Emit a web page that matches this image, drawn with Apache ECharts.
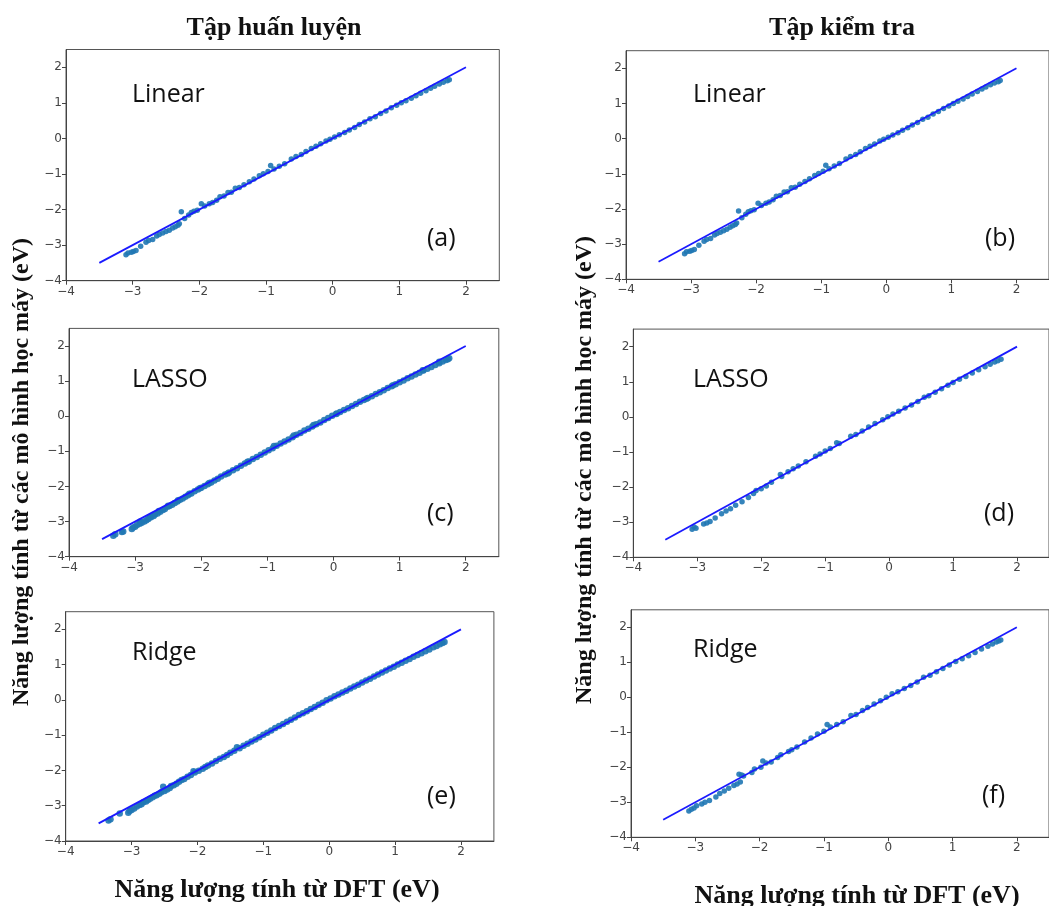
<!DOCTYPE html>
<html><head><meta charset="utf-8">
<script src="https://cdn.jsdelivr.net/npm/echarts@6/dist/echarts.min.js"></script>
<style>html,body{margin:0;padding:0;background:#fff}#c{width:1049px;height:906px}</style>
</head><body><div id="c"></div>
<script>
// ---- data ----
const columnTitles = ['Tập huấn luyện', 'Tập kiểm tra'];
const yAxisTitle = 'Năng lượng tính từ các mô hình học máy (eV)';
const xAxisTitle = 'Năng lượng tính từ DFT (eV)';
const modelNames = ['Linear', 'Linear', 'LASSO', 'LASSO', 'Ridge', 'Ridge'];
const panelTags = ['(a)', '(b)', '(c)', '(d)', '(e)', '(f)'];
const tickValues = [-4, -3, -2, -1, 0, 1, 2];
const refLineX = [-3.5, 2];
const refLineY = [-3.5, 2];

const linearTrain = [[-3.10,-3.27],[-3.07,-3.22],[-3.02,-3.20],[-2.99,-3.18],[-2.95,-3.15],[-2.88,-3.03],[-2.80,-2.92],[-2.76,-2.87],[-2.70,-2.84],[-2.64,-2.74],[-2.60,-2.70],[-2.55,-2.66],[-2.50,-2.62],[-2.45,-2.58],[-2.40,-2.52],[-2.36,-2.48],[-2.32,-2.44],[-2.30,-2.40],[-2.27,-2.06],[-2.22,-2.25],[-2.16,-2.15],[-2.12,-2.08],[-2.08,-2.05],[-2.03,-2.02],[-1.97,-1.84],[-1.92,-1.90],[-1.85,-1.84],[-1.80,-1.80],[-1.74,-1.74],[-1.69,-1.64],[-1.63,-1.62],[-1.57,-1.52],[-1.52,-1.51],[-1.46,-1.40],[-1.40,-1.38],[-1.33,-1.30],[-1.25,-1.22],[-1.18,-1.14],[-1.10,-1.05],[-1.04,-0.99],[-0.97,-0.93],[-0.93,-0.76],[-0.88,-0.86],[-0.80,-0.78],[-0.72,-0.71],[-0.62,-0.58],[-0.55,-0.51],[-0.47,-0.45],[-0.40,-0.37],[-0.32,-0.28],[-0.25,-0.22],[-0.18,-0.15],[-0.10,-0.07],[-0.04,-0.02],[0.03,0.04],[0.10,0.10],[0.18,0.17],[0.25,0.24],[0.33,0.31],[0.40,0.39],[0.48,0.46],[0.56,0.55],[0.64,0.61],[0.72,0.70],[0.80,0.77],[0.88,0.86],[0.96,0.93],[1.03,1.00],[1.10,1.06],[1.18,1.13],[1.25,1.20],[1.32,1.27],[1.40,1.34],[1.47,1.41],[1.53,1.47],[1.60,1.53],[1.66,1.58],[1.72,1.62],[1.75,1.65]];
const linearTest = [[-3.10,-3.27],[-3.07,-3.22],[-3.02,-3.20],[-2.99,-3.18],[-2.95,-3.15],[-2.88,-3.03],[-2.80,-2.92],[-2.76,-2.87],[-2.70,-2.84],[-2.64,-2.74],[-2.60,-2.70],[-2.55,-2.66],[-2.50,-2.62],[-2.45,-2.58],[-2.40,-2.52],[-2.36,-2.48],[-2.32,-2.44],[-2.30,-2.40],[-2.27,-2.06],[-2.22,-2.25],[-2.16,-2.15],[-2.12,-2.08],[-2.08,-2.05],[-2.03,-2.02],[-1.97,-1.84],[-1.92,-1.90],[-1.85,-1.84],[-1.80,-1.80],[-1.74,-1.74],[-1.69,-1.64],[-1.63,-1.62],[-1.57,-1.52],[-1.52,-1.51],[-1.46,-1.40],[-1.40,-1.38],[-1.33,-1.30],[-1.25,-1.22],[-1.18,-1.14],[-1.10,-1.05],[-1.04,-0.99],[-0.97,-0.93],[-0.93,-0.76],[-0.88,-0.86],[-0.80,-0.78],[-0.72,-0.71],[-0.62,-0.58],[-0.55,-0.51],[-0.47,-0.45],[-0.40,-0.37],[-0.32,-0.28],[-0.25,-0.22],[-0.18,-0.15],[-0.10,-0.07],[-0.04,-0.02],[0.03,0.04],[0.10,0.10],[0.18,0.17],[0.25,0.24],[0.33,0.31],[0.40,0.39],[0.48,0.46],[0.56,0.55],[0.64,0.61],[0.72,0.70],[0.80,0.77],[0.88,0.86],[0.96,0.93],[1.03,1.00],[1.10,1.06],[1.18,1.13],[1.25,1.20],[1.32,1.27],[1.40,1.34],[1.47,1.41],[1.53,1.47],[1.60,1.53],[1.66,1.58],[1.72,1.62],[1.75,1.65]];
const lassoTrain = [[-3.33,-3.40],[-3.30,-3.36],[-3.20,-3.30],[-3.18,-3.28],[-3.05,-3.21],[-3.03,-3.17],[-3.00,-3.15],[-2.97,-3.10],[-2.93,-3.06],[-2.92,-3.00],[-2.90,-3.03],[-2.86,-3.00],[-2.83,-2.96],[-2.80,-2.93],[-2.78,-2.88],[-2.76,-2.88],[-2.72,-2.84],[-2.70,-2.80],[-2.66,-2.77],[-2.64,-2.70],[-2.62,-2.72],[-2.58,-2.67],[-2.55,-2.64],[-2.51,-2.58],[-2.50,-2.55],[-2.48,-2.56],[-2.44,-2.52],[-2.40,-2.47],[-2.36,-2.43],[-2.35,-2.39],[-2.32,-2.38],[-2.28,-2.34],[-2.24,-2.29],[-2.20,-2.25],[-2.18,-2.21],[-2.15,-2.20],[-2.10,-2.14],[-2.05,-2.09],[-2.02,-2.05],[-2.00,-2.04],[-1.95,-1.99],[-1.90,-1.94],[-1.88,-1.90],[-1.85,-1.89],[-1.80,-1.83],[-1.75,-1.78],[-1.70,-1.72],[-1.64,-1.66],[-1.60,-1.63],[-1.58,-1.60],[-1.52,-1.54],[-1.46,-1.48],[-1.40,-1.41],[-1.34,-1.35],[-1.30,-1.30],[-1.28,-1.29],[-1.22,-1.22],[-1.16,-1.16],[-1.10,-1.10],[-1.04,-1.03],[-0.98,-0.97],[-0.92,-0.91],[-0.90,-0.85],[-0.86,-0.84],[-0.80,-0.78],[-0.74,-0.72],[-0.68,-0.66],[-0.62,-0.60],[-0.60,-0.55],[-0.56,-0.53],[-0.50,-0.48],[-0.44,-0.41],[-0.38,-0.36],[-0.32,-0.29],[-0.30,-0.25],[-0.26,-0.23],[-0.20,-0.18],[-0.14,-0.11],[-0.08,-0.05],[-0.02,0.01],[0.04,0.06],[0.05,0.08],[0.10,0.12],[0.16,0.18],[0.22,0.23],[0.28,0.29],[0.34,0.35],[0.40,0.41],[0.46,0.46],[0.50,0.50],[0.52,0.52],[0.58,0.57],[0.64,0.63],[0.70,0.68],[0.76,0.74],[0.82,0.80],[0.88,0.85],[0.90,0.88],[0.94,0.91],[1.00,0.97],[1.06,1.02],[1.12,1.08],[1.18,1.13],[1.24,1.19],[1.30,1.24],[1.35,1.31],[1.36,1.30],[1.42,1.35],[1.48,1.40],[1.54,1.46],[1.60,1.51],[1.60,1.55],[1.65,1.56],[1.70,1.60],[1.73,1.62],[1.75,1.65]];
const lassoTest = [[-3.08,-3.20],[-3.05,-3.14],[-3.02,-3.17],[-2.90,-3.05],[-2.85,-3.02],[-2.80,-2.98],[-2.72,-2.88],[-2.62,-2.76],[-2.55,-2.68],[-2.48,-2.62],[-2.40,-2.52],[-2.30,-2.42],[-2.20,-2.30],[-2.12,-2.18],[-2.08,-2.10],[-2.00,-2.05],[-1.92,-1.97],[-1.84,-1.86],[-1.70,-1.64],[-1.68,-1.70],[-1.58,-1.56],[-1.50,-1.48],[-1.42,-1.40],[-1.30,-1.28],[-1.15,-1.12],[-1.08,-1.06],[-1.00,-0.97],[-0.92,-0.90],[-0.82,-0.74],[-0.78,-0.76],[-0.60,-0.55],[-0.52,-0.50],[-0.42,-0.40],[-0.32,-0.29],[-0.22,-0.19],[-0.10,-0.08],[-0.02,0.00],[0.06,0.08],[0.15,0.16],[0.25,0.25],[0.35,0.34],[0.45,0.44],[0.55,0.56],[0.62,0.60],[0.72,0.70],[0.82,0.80],[0.92,0.90],[1.00,0.98],[1.10,1.07],[1.20,1.15],[1.30,1.25],[1.40,1.34],[1.50,1.43],[1.58,1.50],[1.65,1.56],[1.70,1.60],[1.75,1.64]];
const ridgeTrain = [[-3.35,-3.42],[-3.32,-3.38],[-3.18,-3.22],[-3.05,-3.20],[-3.03,-3.15],[-3.00,-3.12],[-2.96,-3.08],[-2.92,-3.02],[-2.88,-2.98],[-2.85,-2.96],[-2.82,-2.90],[-2.78,-2.88],[-2.75,-2.84],[-2.72,-2.80],[-2.68,-2.76],[-2.65,-2.72],[-2.62,-2.70],[-2.58,-2.66],[-2.55,-2.62],[-2.52,-2.46],[-2.50,-2.58],[-2.46,-2.54],[-2.42,-2.50],[-2.40,-2.44],[-2.36,-2.42],[-2.32,-2.38],[-2.28,-2.32],[-2.24,-2.27],[-2.20,-2.24],[-2.15,-2.18],[-2.10,-2.13],[-2.06,-2.02],[-2.04,-2.06],[-1.98,-2.01],[-1.92,-1.95],[-1.88,-1.90],[-1.84,-1.86],[-1.78,-1.80],[-1.72,-1.73],[-1.66,-1.67],[-1.60,-1.62],[-1.55,-1.56],[-1.50,-1.50],[-1.44,-1.44],[-1.40,-1.34],[-1.36,-1.37],[-1.30,-1.30],[-1.24,-1.24],[-1.18,-1.18],[-1.12,-1.12],[-1.06,-1.06],[-1.00,-0.99],[-0.94,-0.93],[-0.88,-0.87],[-0.82,-0.80],[-0.76,-0.74],[-0.70,-0.68],[-0.64,-0.62],[-0.58,-0.56],[-0.52,-0.50],[-0.46,-0.43],[-0.40,-0.38],[-0.34,-0.32],[-0.28,-0.26],[-0.22,-0.20],[-0.16,-0.14],[-0.10,-0.08],[-0.04,-0.01],[0.02,0.04],[0.08,0.10],[0.14,0.15],[0.20,0.21],[0.26,0.26],[0.32,0.32],[0.38,0.38],[0.44,0.43],[0.50,0.49],[0.56,0.55],[0.62,0.60],[0.68,0.66],[0.74,0.72],[0.80,0.78],[0.86,0.83],[0.92,0.89],[0.98,0.94],[1.04,1.00],[1.10,1.05],[1.16,1.11],[1.22,1.16],[1.28,1.22],[1.34,1.27],[1.40,1.32],[1.46,1.38],[1.52,1.43],[1.58,1.49],[1.63,1.53],[1.68,1.58],[1.72,1.61],[1.75,1.64]];
const ridgeTest = [[-3.10,-3.25],[-3.06,-3.20],[-3.02,-3.16],[-2.98,-3.10],[-2.90,-3.05],[-2.85,-3.00],[-2.78,-2.95],[-2.68,-2.85],[-2.62,-2.75],[-2.55,-2.68],[-2.48,-2.60],[-2.40,-2.52],[-2.35,-2.48],[-2.30,-2.42],[-2.32,-2.20],[-2.28,-2.22],[-2.25,-2.25],[-2.12,-2.15],[-2.08,-2.05],[-1.98,-2.00],[-1.95,-1.82],[-1.90,-1.88],[-1.82,-1.85],[-1.72,-1.72],[-1.67,-1.64],[-1.55,-1.55],[-1.50,-1.50],[-1.42,-1.42],[-1.30,-1.28],[-1.20,-1.16],[-1.10,-1.05],[-1.00,-0.97],[-0.95,-0.78],[-0.90,-0.85],[-0.80,-0.78],[-0.70,-0.70],[-0.58,-0.52],[-0.50,-0.49],[-0.40,-0.38],[-0.32,-0.29],[-0.22,-0.19],[-0.12,-0.10],[-0.03,0.00],[0.06,0.10],[0.15,0.16],[0.25,0.25],[0.35,0.34],[0.45,0.44],[0.55,0.57],[0.65,0.63],[0.75,0.73],[0.85,0.82],[0.95,0.92],[1.05,1.02],[1.15,1.10],[1.25,1.19],[1.35,1.28],[1.45,1.38],[1.55,1.46],[1.62,1.52],[1.68,1.58],[1.72,1.61],[1.75,1.64]];
const panelData = [linearTrain, linearTest, lassoTrain, lassoTest, ridgeTrain, ridgeTest];

// ---- layout (pixels) ----
const grids = [
  {left: 66,    top: 49.5,  width: 433.3, height: 231.2},
  {left: 626,   top: 50.7,  width: 425.8, height: 228.6},
  {left: 69,    top: 328.4, width: 429.8, height: 228.3},
  {left: 633.3, top: 329.1, width: 421.9, height: 228.2},
  {left: 65.7,  top: 611.7, width: 428.2, height: 229.3},
  {left: 631,   top: 609.8, width: 421.4, height: 227.5}
];
const nameLeft = [132, 693, 132, 693, 132, 693];
const nameY = [95, 95, 380, 380, 653, 650];
const tagLeft = [427, 985, 427, 984, 427, 982];
const tagY = [239, 239, 514, 514, 797, 796];
const dotSize = [5.5, 5.5, 6.5, 5.5, 6.5, 5.5];

const tickFmt = v => (tickValues.indexOf(v) >= 0 ? String(v).replace('-', '\u2212') : '');
const axisCommon = {
  min: -4, max: 2.5, interval: 1,
  splitLine: {show: false},
  axisLine: {show: true, onZero: false, lineStyle: {color: '#444', width: 1}},
  axisTick: {show: true, length: 4, lineStyle: {color: '#444'}},
  axisLabel: {color: '#444', fontSize: 12, fontFamily: 'DejaVu Sans', formatter: tickFmt, showMaxLabel: false},
};

const option = {
  animation: false,
  backgroundColor: '#fff',
  grid: grids.map(g => Object.assign({show: true, borderColor: '#555', borderWidth: 1, backgroundColor: 'transparent'}, g)),
  xAxis: grids.map((g, i) => Object.assign({type: 'value', gridIndex: i}, axisCommon, {axisLabel: Object.assign({}, axisCommon.axisLabel, {margin: 5})})),
  yAxis: grids.map((g, i) => Object.assign({type: 'value', gridIndex: i}, axisCommon, {axisLabel: Object.assign({}, axisCommon.axisLabel, {margin: 4})})),
  series: [],
  graphic: []
};

panelData.forEach((pts, i) => {
  option.series.push({
    type: 'line', xAxisIndex: i, yAxisIndex: i, symbol: 'none', z: 3,
    data: refLineX.map((x, k) => [x, refLineY[k]]),
    lineStyle: {color: '#1a1aff', width: 1.8}
  });
  option.series.push({
    type: 'scatter', xAxisIndex: i, yAxisIndex: i, z: 2,
    symbolSize: dotSize[i], data: pts,
    itemStyle: {color: '#1f77b4', opacity: 0.9}
  });
  option.graphic.push({type: 'text', x: nameLeft[i], y: nameY[i],
    style: {text: modelNames[i], font: '25px "Open Sans"', fill: '#111', align: 'left', verticalAlign: 'middle'}});
  option.graphic.push({type: 'text', x: tagLeft[i], y: tagY[i],
    style: {text: panelTags[i], font: '25px "Open Sans"', fill: '#111', align: 'left', verticalAlign: 'middle'}});
});

const serifTitle = 'bold 26px "Liberation Serif", "Times New Roman", serif';
const serifY = 'bold 24px "Liberation Serif", "Times New Roman", serif';
option.graphic.push(
  {type: 'text', x: 274, y: 28, style: {text: columnTitles[0], font: serifTitle, fill: '#111', align: 'center', verticalAlign: 'middle'}},
  {type: 'text', x: 842, y: 28, style: {text: columnTitles[1], font: serifTitle, fill: '#111', align: 'center', verticalAlign: 'middle'}},
  {type: 'text', x: 22, y: 472, rotation: Math.PI / 2, style: {text: yAxisTitle, font: serifY, fill: '#111', align: 'center', verticalAlign: 'middle'}},
  {type: 'text', x: 585, y: 470, rotation: Math.PI / 2, style: {text: yAxisTitle, font: serifY, fill: '#111', align: 'center', verticalAlign: 'middle'}},
  {type: 'text', x: 277, y: 890, style: {text: xAxisTitle, font: serifTitle, fill: '#111', align: 'center', verticalAlign: 'middle'}},
  {type: 'text', x: 857, y: 896, style: {text: xAxisTitle, font: serifTitle, fill: '#111', align: 'center', verticalAlign: 'middle'}}
);

const chart = echarts.init(document.getElementById('c'), null, {renderer: 'canvas'});
chart.setOption(option);
</script>
</body></html>
